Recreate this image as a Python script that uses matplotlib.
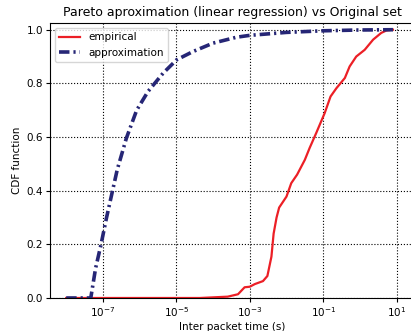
import numpy as np
import matplotlib
matplotlib.use("Agg")
import matplotlib.pyplot as plt

# empirical CDF of inter packet times (log10 of seconds, CDF value)
emp_exp = [-8.0, -5.0, -4.36, -3.6, -3.32, -3.14, -3.0, -2.86, -2.64, -2.52, -2.41,
           -2.35, -2.27, -2.20, -2.0, -1.87, -1.71, -1.50, -1.37, -1.19, -0.96,
           -0.80, -0.64, -0.41, -0.28, -0.10, 0.13, 0.36, 0.58, 0.72, 0.90]
emp_cdf = [0.0, 0.0, 0.0, 0.005, 0.014, 0.04, 0.042, 0.052, 0.063, 0.082, 0.154,
           0.24, 0.30, 0.337, 0.378, 0.428, 0.46, 0.515, 0.559, 0.615, 0.689,
           0.751, 0.782, 0.82, 0.863, 0.90, 0.925, 0.963, 0.988, 0.997, 1.0]

# pareto fit (linear regression on the log survival)
apr_exp = [-8.0, -7.33, -7.2, -7.05, -6.9, -6.61, -6.36, -6.08, -5.77, -5.36,
           -4.99, -4.54, -4.0, -3.36, -3.0, -2.0, -1.0, 0.0, 0.9]
apr_cdf = [0.0, 0.0, 0.11, 0.2, 0.3, 0.478, 0.596, 0.70, 0.77, 0.838,
           0.888, 0.919, 0.95, 0.972, 0.979, 0.99, 0.996, 0.999, 1.0]

emp_x = 10.0 ** np.array(emp_exp)
apr_x = 10.0 ** np.array(apr_exp)

fig = plt.figure(figsize=(4.11, 3.31), dpi=100)
ax = fig.add_axes([0.1217, 0.0997, 0.888, 0.8308])

ax.plot(emp_x, emp_cdf, color='#ec1f26', lw=1.6, label='empirical')
ax.plot(apr_x, apr_cdf, color='#262676', lw=2.6,
        linestyle=(0, (2.9, 1.1, 0.6, 1.1)), label='approximation')

ax.set_xscale('log')
ax.set_xlim(10 ** -8.44, 10 ** 1.5)
ax.set_ylim(0, 1.025)
ax.set_xticks([1e-7, 1e-5, 1e-3, 1e-1, 1e1])
ax.xaxis.set_minor_locator(matplotlib.ticker.NullLocator())
ax.set_yticks([0.0, 0.2, 0.4, 0.6, 0.8, 1.0])
ax.tick_params(labelsize=7.5, length=3, pad=2)
ax.grid(True, color='black', linestyle=':', linewidth=0.8)

ax.set_xlabel('Inter packet time (s)', fontsize=7.5, labelpad=2)
ax.set_ylabel('CDF function', fontsize=7.5, labelpad=3)
ax.set_title('Pareto aproximation (linear regression) vs Original set', fontsize=9, pad=5)
ax.legend(loc='upper left', fontsize=7.5)

fig.savefig('out.png', dpi=100)
